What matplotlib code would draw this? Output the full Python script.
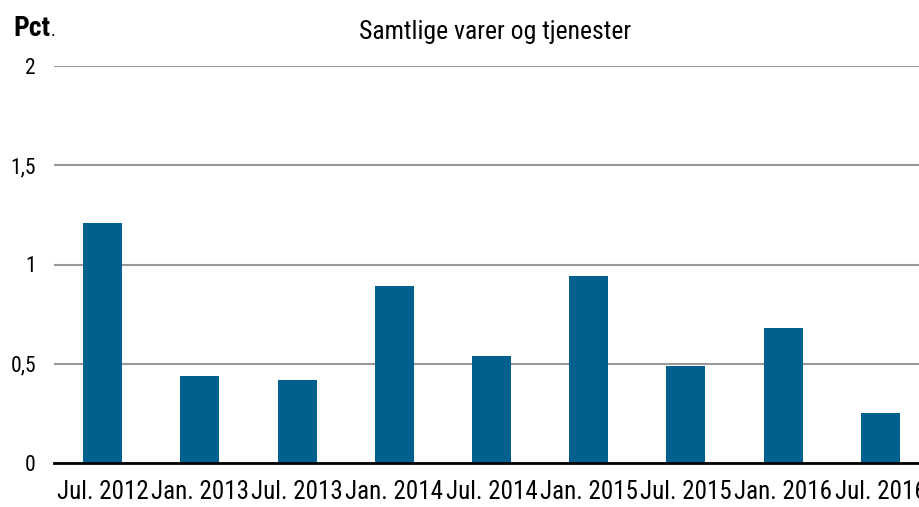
import matplotlib.pyplot as plt
from matplotlib import font_manager

names = {f.name for f in font_manager.fontManager.ttflist}
candidates = ['Roboto Condensed', 'Liberation Sans Narrow', 'Liberation Sans']
fam = next(c for c in candidates if c in names)
plt.rcParams['font.family'] = [fam, 'DejaVu Sans']

categories = ['Jul. 2012', 'Jan. 2013', 'Jul. 2013', 'Jan. 2014', 'Jul. 2014',
              'Jan. 2015', 'Jul. 2015', 'Jan. 2016', 'Jul. 2016']
values = [1.21, 0.44, 0.42, 0.89, 0.54, 0.94, 0.49, 0.68, 0.25]
yticks = [0, 0.5, 1, 1.5, 2]
ylabels = ['0', '0,5', '1', '1,5', '2']

fig = plt.figure(figsize=(9.2, 5.07), dpi=100)
ax = fig.add_axes([54 / 920, 44 / 507, 875 / 920, 397 / 507])

x = range(len(categories))
ax.bar(x, values, width=0.4, color='#00618f', zorder=3)

ax.set_xlim(-0.5, len(categories) - 0.5)
ax.set_ylim(0, 2)
ax.set_yticks(yticks)
ax.set_yticklabels(ylabels, fontsize=15.5)
ax.set_xticks(list(x))
ax.set_xticklabels(categories, fontsize=18)
ax.tick_params(axis='both', length=0)
ax.tick_params(axis='y', pad=13)
ax.tick_params(axis='x', pad=12)

ax.grid(axis='y', color='#999999', linewidth=1.5, zorder=0)
for s in ['top', 'right', 'left']:
    ax.spines[s].set_visible(False)
ax.spines['bottom'].set_linewidth(2)
ax.spines['bottom'].set_color('black')
ax.spines['bottom'].set_zorder(4)

fig.text(495 / 920, 1 - 32 / 507, 'Samtlige varer og tjenester', ha='center', va='center', fontsize=18.5)
fig.text(13 / 920, 1 - 28 / 507, 'Pct', ha='left', va='center', fontsize=20, fontweight='bold')
fig.text(51 / 920, 1 - 31 / 507, '.', ha='left', va='center', fontsize=13)

fig.savefig('out.png', dpi=100)
